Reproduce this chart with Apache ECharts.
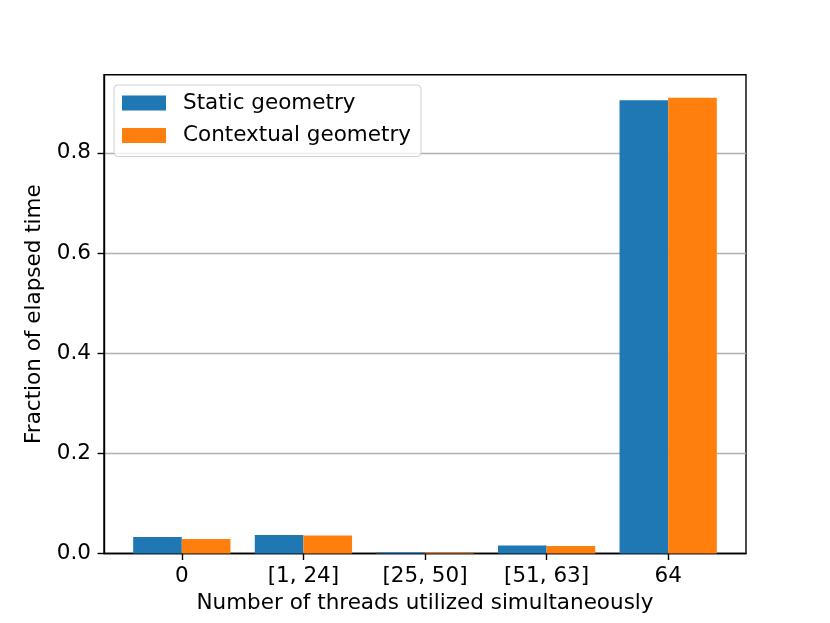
<!DOCTYPE html>
<html>
<head>
<meta charset="utf-8">
<script src="https://cdn.jsdelivr.net/npm/echarts@6/dist/echarts.min.js"></script>
<style>
html,body{margin:0;padding:0;background:#fff;}
#chart{width:830px;height:623px;}
</style>
</head>
<body>
<div id="chart"></div>
<script>
var categories = ['0', '[1, 24]', '[25, 50]', '[51, 63]', '64'];
var staticGeometry = [0.033, 0.037, 0.002, 0.016, 0.905];
var contextualGeometry = [0.029, 0.036, 0.0015, 0.015, 0.910];
var yTicks = [0, 0.2, 0.4, 0.6, 0.8];

var FONT = 'DejaVu Sans';
var FS = 21.5;
var chart = echarts.init(document.getElementById('chart'), null, {renderer: 'canvas'});

function pairs(vals) {
  return vals.map(function (v, i) { return [i, v]; });
}

var option = {
  animation: false,
  backgroundColor: '#fff',
  textStyle: {fontFamily: FONT},
  grid: {
    left: 104, right: 84, top: 74.7, bottom: 69.5,
    show: true, borderColor: '#000', borderWidth: 1.4, backgroundColor: 'transparent'
  },
  legend: {
    orient: 'vertical',
    left: 114, top: 85,
    itemWidth: 44, itemHeight: 15, itemGap: 10.5,
    padding: [7, 10, 10, 8],
    borderColor: '#d0d0d0', borderWidth: 1, borderRadius: 4,
    backgroundColor: 'rgba(255,255,255,0.8)',
    icon: 'rect',
    textStyle: {fontFamily: FONT, fontSize: FS, color: '#000', padding: [0, 0, 0, 12]},
    data: ['Static geometry', 'Contextual geometry']
  },
  xAxis: {
    type: 'value',
    min: -0.64, max: 4.64,
    name: 'Number of threads utilized simultaneously',
    nameLocation: 'middle', nameGap: 38,
    nameTextStyle: {fontFamily: FONT, fontSize: FS, color: '#000'},
    splitLine: {show: false},
    axisLine: {show: true, onZero: false, lineStyle: {color: '#000', width: 1.4}},
    axisTick: {show: true, length: 6.5, inside: false, lineStyle: {color: '#000', width: 1.4},
      customValues: [0, 1, 2, 3, 4]},
    axisLabel: {fontFamily: FONT, fontSize: FS, color: '#000', margin: 12,
      customValues: [0, 1, 2, 3, 4],
      formatter: function (v) { return categories[Math.round(v)]; }}
  },
  yAxis: {
    type: 'value',
    min: 0, max: 0.956,
    name: 'Fraction of elapsed time',
    nameLocation: 'middle', nameGap: 56,
    nameTextStyle: {fontFamily: FONT, fontSize: FS, color: '#000'},
    axisLine: {show: true, onZero: false, lineStyle: {color: '#000', width: 1.4}},
    axisTick: {show: true, length: 6.5, inside: false, lineStyle: {color: '#000', width: 1.4},
      customValues: yTicks},
    axisLabel: {fontFamily: FONT, fontSize: FS, color: '#000', margin: 13,
      customValues: yTicks,
      formatter: function (v) { return v.toFixed(1); }},
    splitLine: {show: true, lineStyle: {color: '#b0b0b0', width: 1.3}}
  },
  series: [
    {
      name: 'Static geometry', type: 'bar',
      data: pairs(staticGeometry),
      barWidth: '40%', barGap: '0%',
      itemStyle: {color: '#1f77b4'}
    },
    {
      name: 'Contextual geometry', type: 'bar',
      data: pairs(contextualGeometry),
      barWidth: '40%', barGap: '0%',
      itemStyle: {color: '#ff7f0e'}
    }
  ]
};
chart.setOption(option);
</script>
</body>
</html>
